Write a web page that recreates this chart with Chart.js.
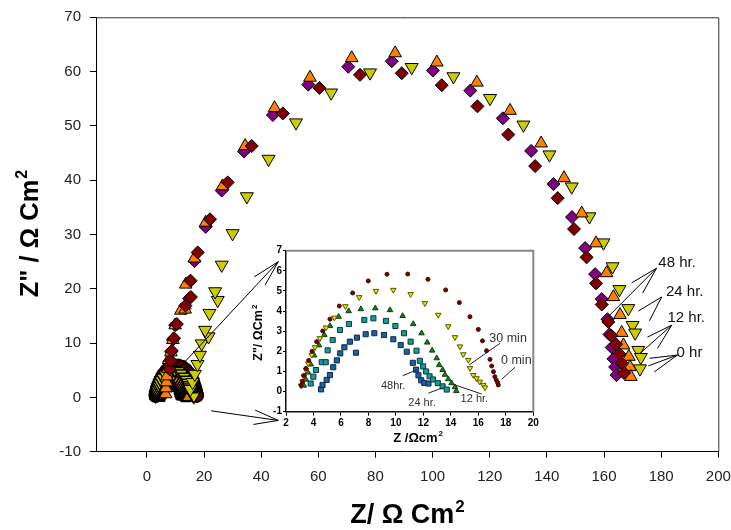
<!DOCTYPE html>
<html>
<head>
<meta charset="utf-8">
<script src="https://cdn.jsdelivr.net/npm/chart.js@4.4.1/dist/chart.umd.min.js"></script>
<style>
  html, body { margin: 0; padding: 0; background: #fff; }
  #wrap { position: relative; width: 731px; height: 530px; }
  #main { position: absolute; left: 0; top: 0; }
  #inset { position: absolute; left: 220px; top: 230px; }
</style>
</head>
<body>
<div id="wrap">
  <canvas id="main" width="731" height="530" style="width:731px;height:530px"></canvas>
  <canvas id="inset" width="330" height="220" style="width:330px;height:220px"></canvas>
</div>
<script>
// ---- tick labels ----
const mainXTicks = [0, 20, 40, 60, 80, 100, 120, 140, 160, 180, 200];
const mainYTicks = [-10, 0, 10, 20, 30, 40, 50, 60, 70];
const insetXTicks = [2, 4, 6, 8, 10, 12, 14, 16, 18, 20];
const insetYTicks = [-1, 0, 1, 2, 3, 4, 5, 6, 7];

// ---- main plot: [Z', Z''] in ohm cm2 ----
const z48hr = [[7.9,5.2],[8.3,6.8],[8.7,8.6],[9.5,10.9],[10.5,13.5],[13.5,16.9],[15.4,18.5],[15.3,21.5],
  [17.8,26.7],[22.1,32.8],[28.3,39.6],[36.7,46.3],[47.6,52.3],[60.4,57.0],[74.6,59.4],[89.2,59.7],[103.2,57.5],[115.7,53.6],
  [126.5,48.4],[135.9,42.6],[143.8,36.7],[149.5,31.0],[153.9,25.8],[157.2,21.0],[159.2,17.1],[161.5,13.9],[162.5,11.4],
  [164.2,9.8],[165.4,8.0],[166.2,6.3],[167.0,4.5]];
const z24hr = [[7.6,5.0],[7.9,6.6],[8.5,8.4],[9.1,10.6],[9.9,13.3],[13.2,16.4],[14.8,18.2],[14.9,21.3],
  [16.7,25.1],[20.6,31.4],[26.2,38.1],[34.0,45.3],[44.1,52.0],[56.5,57.6],[70.5,60.9],[85.7,61.9],[100.1,60.2],[113.2,56.5],
  [124.6,51.4],[134.5,45.4],[142.3,39.3],[148.8,33.2],[153.4,27.5],[156.9,22.7],[159.2,18.1],[161.2,14.4],[161.9,11.6],
  [162.7,9.2],[163.3,7.1],[163.9,5.6],[164.4,4.1]];
const z12hr = [[6.6,0.6],[6.7,1.7],[6.9,2.8],[7.0,3.9],[7.3,5.3],[7.6,6.9],[8.4,8.3],[9.1,10.6],[9.9,13.3],[11.9,16.0],[13.4,16.2],[13.6,20.8],
  [16.6,25.6],[20.6,32.2],[26.5,38.9],[34.4,46.3],[44.7,53.3],[57.1,58.9],[71.7,62.5],[86.9,63.4],[101.5,61.7],[115.5,58.0],
  [127.1,52.8],[138.0,46.8],[146.0,40.4],[152.2,33.9],[157.2,28.4],[160.9,22.9],[163.3,18.5],[165.6,15.2],[166.2,11.9],
  [166.8,9.6],[168.7,7.5],[169.1,5.6],[169.4,3.8]];
const z0hr = [[15.2,1.5],[16.0,2.8],[16.8,4.3],[17.7,6.1],[18.6,7.8],[19.2,9.9],[21.6,11.2],[20.4,12.4],[21.9,15.5],[24.8,17.9],
  [23.9,19.5],[26.2,24.4],[30.0,30.2],[35.0,37.0],[42.6,43.9],[52.2,50.6],[64.5,56.1],[78.1,59.8],[92.7,60.8],[107.3,59.1],
  [120.1,55.1],[131.8,50.2],[140.9,44.7],[148.7,38.8],[154.9,33.3],[159.8,28.5],[163.0,24.1],[165.4,19.9],[168.5,16.4],
  [170.0,13.3],[170.9,11.9],[172.0,8.7],[172.9,7.4],[172.6,5.3]];

// ---- inset: early impedance arcs ----
const i0min = [[3.1,0.3],[3.2,0.5],[3.3,0.8],[3.45,1.15],[3.65,1.55],[3.9,2.0],[4.23,2.48],[4.67,3.01],[5.2,3.6],[5.88,4.25],
  [6.85,4.9],[7.99,5.5],[9.35,5.83],[10.86,5.84],[12.33,5.58],[13.62,5.05],[14.62,4.42],[15.39,3.72],[16.0,3.09],[16.3,2.52],
  [16.6,2.03],[16.85,1.6],[16.97,1.27],[17.1,0.99],[17.2,0.74],[17.3,0.58],[17.4,0.45],[17.45,0.33]];
const i30min = [[3.1,0.3],[3.2,0.5],[3.3,0.75],[3.46,1.07],[3.62,1.4],[3.87,1.82],[4.11,2.2],[4.47,2.65],[4.91,3.18],[5.52,3.67],
  [6.32,4.24],[7.33,4.69],[8.55,5.0],[9.81,5.05],[11.07,4.84],[12.11,4.39],[13.08,3.81],[13.81,3.24],[14.3,2.7],[14.66,2.24],
  [14.9,1.85],[15.27,1.57],[15.39,1.16],[15.63,0.82],[15.87,0.66],[16.1,0.49],[16.36,0.33],[16.48,0.2]];
const i12hr = [[3.3,0.3],[3.45,0.6],[3.6,0.95],[3.8,1.35],[4.05,1.8],[4.4,2.3],[4.79,2.81],[5.2,3.26],[5.83,3.72],[6.56,4.0],
  [7.45,4.1],[8.5,4.14],[9.57,4.05],[10.49,3.76],[11.26,3.36],[11.87,2.9],[12.28,2.44],[12.64,2.04],[12.97,1.66],[13.15,1.32],
  [13.4,1.08],[13.57,0.84],[13.81,0.62],[14.05,0.42],[14.3,0.22],[14.4,0.03]];
const i24hr = [[3.8,0.4],[3.99,0.74],[4.18,1.07],[4.6,1.46],[4.89,1.46],[5.03,2.05],[5.4,2.56],[5.93,3.06],[6.58,3.36],[7.7,3.56],
  [8.36,3.64],[9.28,3.51],[9.96,3.26],[10.59,2.9],[11.07,2.48],[11.5,2.03],[11.74,1.53],[11.98,1.25],[12.2,1.0],[12.45,0.76],
  [12.7,0.6],[13.05,0.42],[13.4,0.26],[13.7,0.1]];
const i48hr = [[4.55,0.11],[4.66,0.33],[4.96,0.58],[5.2,0.82],[5.44,1.21],[5.7,1.55],[5.95,1.9],[6.25,2.2],[6.65,2.48],[7.16,2.68],
  [7.09,1.93],[7.8,2.85],[8.43,2.9],[9.13,2.81],[9.81,2.6],[10.35,2.31],[10.79,1.98],[11.23,1.43],[11.47,1.09],[11.64,0.81],
  [11.84,0.56],[12.06,0.43],[12.37,0.4]];

// ---- callouts (data units) ----
const mainNotes = [
  { text: '48 hr.', at: [179.0, 24.7], tip: [178.4, 23.8], ends: [[169.7,21.1],[173.5,19.2],[161.5,14.9]] },
  { text: '24 hr.', at: [181.7, 19.35], tip: [180.2, 18.5], ends: [[172.0,15.9],[175.9,14.1]] },
  { text: '12 hr.', at: [182.2, 14.56], tip: [183.7, 13.3], ends: [[175.2,11.1],[178.7,9.0],[172.6,8.1]] },
  { text: '0 hr',   at: [185.4, 8.2],  tip: [185.7, 7.8],  ends: [[175.9,7.2],[175.5,5.8],[177.6,4.7]] }
];
const zoomLines = [
  [[12.8,6.27],[46.0,25.0]], [[37.6,22.2],[46.0,25.0]], [[41.4,20.7],[46.0,25.0]],
  [[22.5,-2.47],[46.0,-4.24]], [[37.9,-2.34],[46.0,-4.24]], [[37.3,-4.98],[46.0,-4.24]]
];
const insetNotes = [
  { text: '30 min', at: [16.8, 2.65], size: 12.5, line: [[15.32,1.32],[17.58,2.4]] },
  { text: '0 min',  at: [17.65, 1.53], size: 12.5, line: [[17.7,0.61],[18.67,1.21]] },
  { text: '48hr.',  at: [8.91, 0.28], size: 11, line: [[10.49,0.79],[11.51,1.07]] },
  { text: '24 hr.', at: [10.9, -0.55], size: 11, line: [[12.36,-0.08],[13.4,0.19]] },
  { text: '12 hr.', at: [14.71, -0.38], size: 11, line: [[14.18,0.36],[16.24,-0.12]] }
];

const FONT = "'Liberation Sans', Arial, Helvetica, sans-serif";
const pts = arr => arr.map(([x, y]) => ({ x, y }));

function series(label, data, style, fill, r, rot, edge, bw) {
  return {
    label, data: pts(data), pointStyle: style, pointRadius: r, pointRotation: rot || 0,
    backgroundColor: fill, borderColor: edge || '#000', borderWidth: bw || 1, showLine: false
  };
}

function supText(ctx, txt, sup, x, y, size, center) {
  ctx.font = `bold ${size}px ${FONT}`;
  const w1 = ctx.measureText(txt).width;
  ctx.font = `bold ${Math.round(size * 0.62)}px ${FONT}`;
  const w2 = ctx.measureText(sup).width;
  const x0 = center ? x - (w1 + w2) / 2 : x;
  ctx.textAlign = 'left';
  ctx.textBaseline = 'alphabetic';
  ctx.font = `bold ${size}px ${FONT}`;
  ctx.fillText(txt, x0, y);
  ctx.font = `bold ${Math.round(size * 0.62)}px ${FONT}`;
  ctx.fillText(sup, x0 + w1 + 1, y - size * 0.42);
}

function line(ctx, sx, sy, a, b) {
  ctx.beginPath();
  ctx.moveTo(sx.getPixelForValue(a[0]), sy.getPixelForValue(a[1]));
  ctx.lineTo(sx.getPixelForValue(b[0]), sy.getPixelForValue(b[1]));
  ctx.stroke();
}

const mainDecor = {
  id: 'mainDecor',
  afterDraw(chart) {
    const { ctx, chartArea: a, scales: { x, y } } = chart;
    ctx.save();
    // frame top / right
    ctx.strokeStyle = '#333';
    ctx.lineWidth = 1;
    ctx.beginPath();
    ctx.moveTo(a.left, a.top + 0.5); ctx.lineTo(a.right + 0.5, a.top + 0.5); ctx.lineTo(a.right + 0.5, a.bottom);
    ctx.stroke();
    // callouts
    ctx.strokeStyle = '#000';
    zoomLines.forEach(([p, q]) => line(ctx, x, y, p, q));
    ctx.fillStyle = '#111';
    ctx.font = `15px ${FONT}`;
    ctx.textAlign = 'left';
    ctx.textBaseline = 'middle';
    mainNotes.forEach(n => {
      ctx.fillText(n.text, x.getPixelForValue(n.at[0]), y.getPixelForValue(n.at[1]));
      n.ends.forEach(e => line(ctx, x, y, n.tip, e));
    });
    // axis titles
    ctx.fillStyle = '#000';
    supText(ctx, 'Z/ Ω Cm', '2', 407, 523, 27, true);
    ctx.translate(29, 234);
    ctx.rotate(-Math.PI / 2);
    supText(ctx, 'Z" / Ω Cm', '2', 0, 9, 25.5, true);
    ctx.restore();
  }
};

const insetDecor = {
  id: 'insetDecor',
  afterDraw(chart) {
    const { ctx, chartArea: a, scales: { x, y } } = chart;
    ctx.save();
    ctx.strokeStyle = '#888';
    ctx.lineWidth = 2;
    ctx.beginPath();
    ctx.moveTo(a.left, a.top); ctx.lineTo(a.right, a.top); ctx.lineTo(a.right, a.bottom);
    ctx.stroke();
    ctx.lineWidth = 1;
    ctx.strokeStyle = '#222';
    ctx.fillStyle = '#333';
    ctx.textAlign = 'left';
    ctx.textBaseline = 'middle';
    insetNotes.forEach(n => {
      ctx.font = `${n.size}px ${FONT}`;
      ctx.fillText(n.text, x.getPixelForValue(n.at[0]), y.getPixelForValue(n.at[1]));
      line(ctx, x, y, n.line[0], n.line[1]);
    });
    ctx.fillStyle = '#000';
    supText(ctx, 'Z /Ωcm', '2', (a.left + a.right) / 2 + 8, a.bottom + 30, 13, true);
    ctx.translate(a.left - 28, (a.top + a.bottom) / 2 + 2);
    ctx.rotate(-Math.PI / 2);
    supText(ctx, 'Z"/ ΩCm', '2', 0, 4, 12.5, true);
    ctx.restore();
  }
};

function axis(min, max, tickVals, opts) {
  return Object.assign({
    type: 'linear', min, max,
    afterBuildTicks: s => { s.ticks = tickVals.map(v => ({ value: v })); },
    grid: { drawOnChartArea: false, drawTicks: true, tickLength: opts.tickLen, color: '#000', lineWidth: 1 },
    border: { display: true, color: opts.borderColor || '#000', width: opts.borderWidth || 1 },
    ticks: { font: opts.font, color: opts.color, padding: opts.pad, maxRotation: 0, autoSkip: false }
  }, opts.extra);
}

// keep plot area fixed: no extra label padding from the scales
function fixBox(size, horizontal) {
  return s => {
    if (horizontal) s.height = size; else s.width = size;
    s.paddingLeft = 0; s.paddingRight = 0; s.paddingTop = 0; s.paddingBottom = 0;
  };
}

new Chart(document.getElementById('main'), {
  type: 'scatter',
  data: {
    datasets: [
      series('48 hr.', z48hr, 'rectRot', '#800000', 6.5),
      series('12 hr.', z12hr, 'triangle', '#ff8000', 7.3),
      series('24 hr.', z24hr, 'rectRot', '#800080', 6.5),
      series('0 hr', z0hr, 'triangle', '#cccc00', 7.5, 180),
      series('30 min', i30min, 'triangle', '#cccc00', 7, 180, '#000', 1.4),
      series('12 hr', i12hr, 'triangle', '#e07000', 7, 0, '#000', 1.4),
      series('24 hr', i24hr, 'rect', '#1a9a9a', 6.5, 0, '#000', 1.4),
      series('48 hr', i48hr, 'rect', '#1f5f9f', 6.5, 0, '#000', 1.4),
      series('0 min', i0min, 'circle', '#5a0000', 6.5, 0, '#000', 1.6)
    ]
  },
  options: {
    responsive: false, animation: false, events: [],
    layout: { padding: { top: 17.3, right: 12.7, left: 0, bottom: 0 } },
    plugins: { legend: { display: false }, tooltip: { enabled: false } },
    scales: {
      x: axis(-17.8, 200, mainXTicks, {
        tickLen: 6, pad: 10, color: '#222', font: { family: FONT, size: 15 },
        extra: { afterFit: fixBox(78.3, true) }
      }),
      y: axis(-10, 70, mainYTicks, {
        tickLen: 6, pad: 9, color: '#222', font: { family: FONT, size: 15 },
        extra: { afterFit: fixBox(96, false) }
      })
    }
  },
  plugins: [mainDecor]
});

new Chart(document.getElementById('inset'), {
  type: 'scatter',
  data: {
    datasets: [
      series('0 min', i0min, 'circle', '#7a0000', 2, 0, '#4a0000'),
      series('30 min', i30min, 'triangle', '#e6e600', 3.2, 180, '#555500'),
      series('12 hr.', i12hr, 'triangle', '#1f7a1f', 3.2, 0, '#0f3f0f'),
      series('24 hr.', i24hr, 'rect', '#1a9a9a', 3.6, 0, '#0a3a3a'),
      series('48hr.', i48hr, 'rect', '#2060a0', 3.6, 0, '#0a2a4a')
    ]
  },
  options: {
    responsive: false, animation: false, events: [],
    layout: { padding: { top: 20.7, right: 16.7, left: 0, bottom: 0 } },
    plugins: { legend: { display: false }, tooltip: { enabled: false } },
    scales: {
      x: axis(2, 20, insetXTicks, {
        tickLen: 4, pad: 2, color: '#000', borderColor: '#111', borderWidth: 1.5,
        font: { family: FONT, size: 10, weight: 'bold' },
        extra: { afterFit: fixBox(38.3, true) }
      }),
      y: axis(-1, 7, insetYTicks, {
        tickLen: 3, pad: 1, color: '#000', borderColor: '#111', borderWidth: 1.5,
        font: { family: FONT, size: 10, weight: 'bold' },
        extra: { afterFit: fixBox(66, false) }
      })
    }
  },
  plugins: [insetDecor]
});
</script>
</body>
</html>
